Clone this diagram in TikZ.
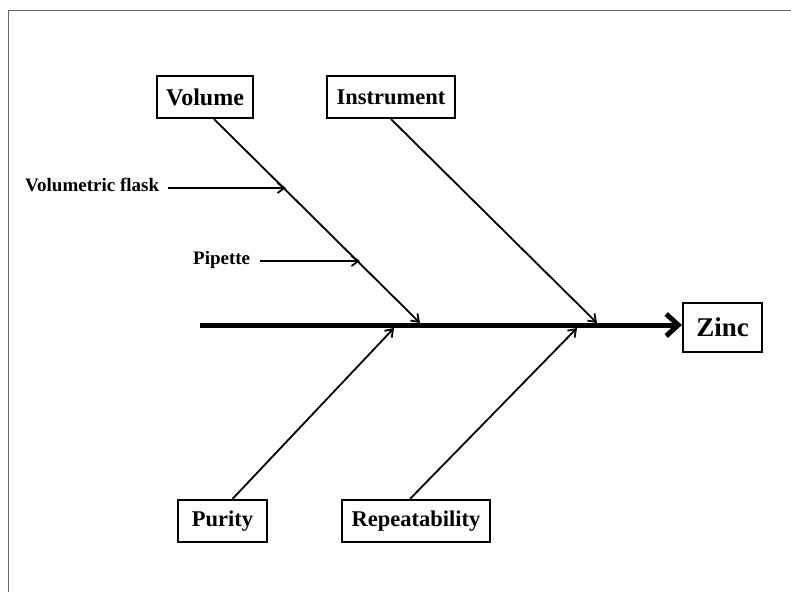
\documentclass[tikz,border=0pt]{standalone}
\usepackage{fontspec}
\setmainfont{Liberation Serif}
\usetikzlibrary{arrows.meta}
\begin{document}
\begin{tikzpicture}[x=1pt,y=-1pt,
  cause/.style={draw=black,line width=2.2pt,inner sep=0pt,font=\bfseries\fontsize{22.5}{25}\selectfont},
  sub/.style={inner sep=0pt,font=\bfseries\fontsize{19}{22}\selectfont},
  bone/.style={line width=1.8pt,-{Straight Barb[length=7pt,width=10pt,line width=1.8pt]}},
  spine/.style={line width=5pt,-{Straight Barb[length=12pt,width=22pt,line width=5pt]}},
  frame/.style={draw=black!60,line width=1.5pt}]
\useasboundingbox (0,0) rectangle (791,592);
% frame edges
\draw[frame] (8.5,592) -- (8.5,10.5) -- (791,10.5);

% effect and cause boxes
\node[cause,minimum width=79pt,minimum height=49pt,font=\bfseries\fontsize{27}{30}\selectfont] (zinc) at (722.5,327.5) {Zinc};
\node[cause,minimum width=96pt,minimum height=42pt,font=\bfseries\fontsize{24}{27}\selectfont] (volume) at (205,97) {Volume};
\node[cause,minimum width=128pt,minimum height=42pt] (instr) at (391,97) {Instrument};
\node[cause,minimum width=89pt,minimum height=42pt] (purity) at (222.5,521) {Purity};
\node[cause,minimum width=148pt,minimum height=42pt] (repeat) at (416,521) {Repeatability};

% spine
\coordinate (tail) at (200,325);
\draw[spine] (tail) -- (tail -| zinc.west);

% points where the bones meet the spine
\coordinate (vj) at (420,323);
\coordinate (ij) at (597,323);
\coordinate (pj) at (394,328);
\coordinate (rj) at (577,328);

\draw[bone] ([xshift=9pt]volume.south) -- (vj);
\draw[bone] (instr.south) -- (ij);
\draw[bone] ([xshift=10pt]purity.north) -- (pj);
\draw[bone] ([xshift=-6pt]repeat.north) -- (rj);

% sub-causes of Volume
\node[sub,anchor=west] (flask) at (25,185) {Volumetric flask};
\node[sub,anchor=west] (pip) at (193,260) {Pipette};
\coordinate (fj) at (286,188);
\coordinate (pipj) at (360,261);
\draw[bone] ([xshift=9pt]flask.east |- fj) -- (fj);
\draw[bone] ([xshift=10pt]pip.east |- pipj) -- (pipj);
\end{tikzpicture}
\end{document}
